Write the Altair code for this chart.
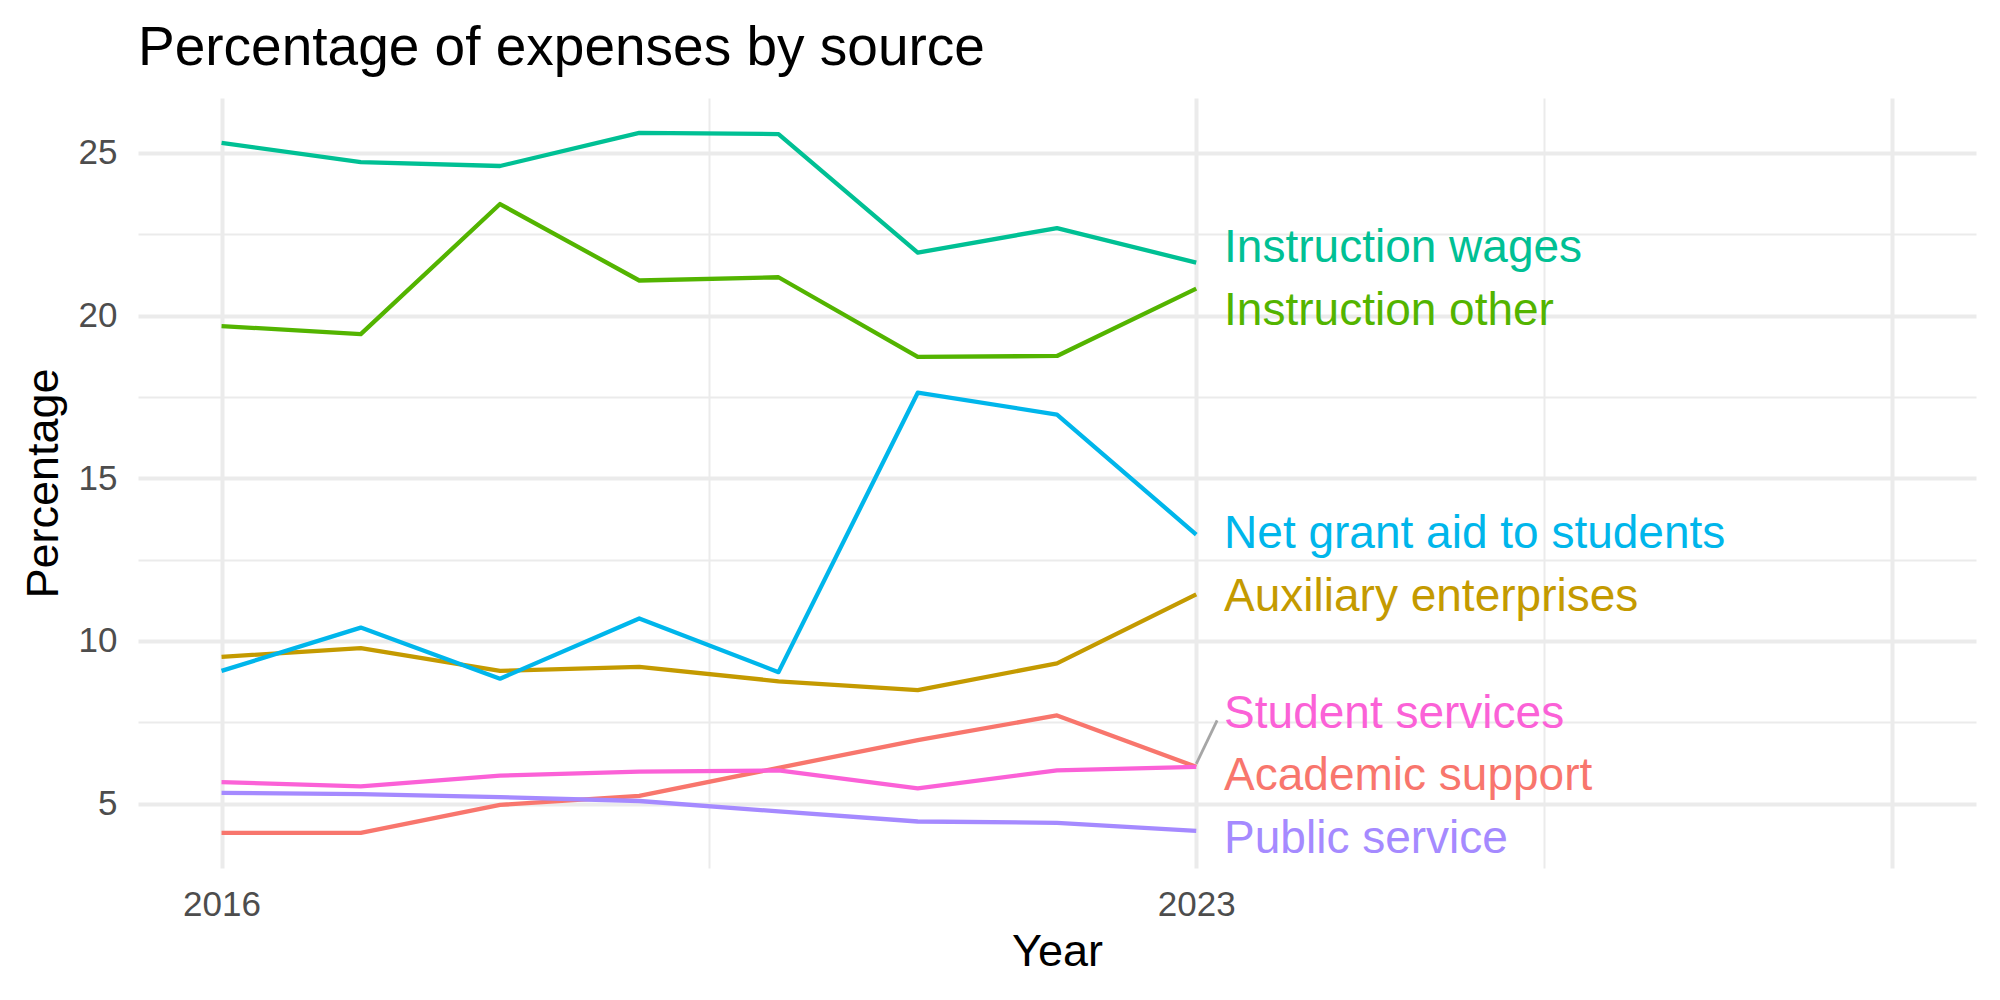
import altair as alt
import pandas as pd

# Expense shares by source, percent of total, 2016-2023
years = [2016, 2017, 2018, 2019, 2020, 2021, 2022, 2023]

series_names = [
    "Academic support",
    "Auxiliary enterprises",
    "Instruction other",
    "Instruction wages",
    "Net grant aid to students",
    "Public service",
    "Student services",
]
series_colors = ["#F8766D", "#C49A00", "#53B400", "#00C094", "#00B6EB", "#A58AFF", "#FB61D7"]

academic_support = [4.10, 4.10, 4.96, 5.24, 6.10, 6.95, 7.71, 6.13]
auxiliary_enterprises = [9.51, 9.78, 9.08, 9.20, 8.76, 8.49, 9.31, 11.43]
instruction_other = [19.68, 19.43, 23.43, 21.08, 21.18, 18.73, 18.76, 20.83]
instruction_wages = [25.31, 24.72, 24.60, 25.62, 25.58, 21.94, 22.69, 21.63]
net_grant_aid = [9.08, 10.41, 8.84, 10.69, 9.04, 17.63, 16.96, 13.27]
public_service = [5.33, 5.29, 5.20, 5.08, 4.76, 4.45, 4.41, 4.16]
student_services = [5.66, 5.53, 5.86, 5.98, 6.02, 5.47, 6.02, 6.13]

# Repelled end-label placement (data units)
label_year = [2023.2] * 7
label_value = [5.43, 10.91, 19.70, 21.65, 12.85, 3.49, 7.32]

# Leader segment from the Student services line end to its label
segment_from = [2023.0, 6.22]
segment_to = [2023.15, 7.56]

values_by_series = [
    academic_support,
    auxiliary_enterprises,
    instruction_other,
    instruction_wages,
    net_grant_aid,
    public_service,
    student_services,
]

rows = []
for name, vals in zip(series_names, values_by_series):
    for yr, v in zip(years, vals):
        rows.append({"series": name, "year": yr, "value": v})
df = pd.DataFrame(rows)

labels_df = pd.DataFrame({"series": series_names, "year": label_year, "value": label_value})
segment_df = pd.DataFrame(
    [{"x": segment_from[0], "y": segment_from[1], "x2": segment_to[0], "y2": segment_to[1]}]
)

FONT = "Liberation Sans"
GRID = "#EBEBEB"

x_scale = alt.Scale(domain=[2015.4, 2028.6], nice=False, zero=False)
y_scale = alt.Scale(domain=[3.02, 26.69], nice=False, zero=False)
color_scale = alt.Scale(domain=series_names, range=series_colors)

x_axis = alt.Axis(
    values=[2016, 2019.5, 2023, 2025.5, 2028],
    labelExpr="datum.value == 2016 || datum.value == 2023 ? datum.value : ''",
    grid=True,
    gridColor=GRID,
    gridWidth={"condition": {"test": "datum.value == 2019.5 || datum.value == 2025.5", "value": 2}, "value": 4},
    ticks=False,
    tickSize=0,
    domain=False,
    labelFont=FONT,
    labelFontSize=35,
    labelColor="#4D4D4D",
    labelPadding=19,
    labelOverlap=False,
    title="Year",
    titleFont=FONT,
    titleFontSize=45,
    titleFontWeight="normal",
    titleColor="#000000",
    titleBaseline="alphabetic",
    titleX=919,
    titleY=97,
)

y_axis = alt.Axis(
    values=[5, 7.5, 10, 12.5, 15, 17.5, 20, 22.5, 25],
    labelExpr="datum.value % 5 == 0 ? datum.value : ''",
    grid=True,
    gridColor=GRID,
    gridWidth={"condition": {"test": "datum.value % 5 != 0", "value": 2}, "value": 4},
    ticks=False,
    tickSize=0,
    domain=False,
    labelFont=FONT,
    labelFontSize=35,
    labelColor="#4D4D4D",
    labelPadding=21,
    labelOverlap=False,
    title="Percentage",
    titleFont=FONT,
    titleFontSize=45,
    titleFontWeight="normal",
    titleColor="#000000",
    titleAngle=-90,
    titleAlign="center",
    titleBaseline="alphabetic",
    titleX=-81,
    titleY=385,
)

lines = (
    alt.Chart(df)
    .mark_line(strokeWidth=4.3, strokeCap="butt", strokeJoin="round")
    .encode(
        x=alt.X("year:Q", scale=x_scale, axis=x_axis),
        y=alt.Y("value:Q", scale=y_scale, axis=y_axis),
        color=alt.Color("series:N", scale=color_scale, legend=None),
    )
)

segment = (
    alt.Chart(segment_df)
    .mark_rule(color="#A6A6A6", strokeWidth=2.8)
    .encode(
        x=alt.X("x:Q", scale=x_scale),
        y=alt.Y("y:Q", scale=y_scale),
        x2="x2:Q",
        y2="y2:Q",
    )
)

labels = (
    alt.Chart(labels_df)
    .mark_text(align="left", baseline="alphabetic", font=FONT, fontSize=46)
    .encode(
        x=alt.X("year:Q", scale=x_scale),
        y=alt.Y("value:Q", scale=y_scale),
        text="series:N",
        color=alt.Color("series:N", scale=color_scale, legend=None),
    )
)

chart = (
    alt.layer(lines, segment, labels)
    .properties(
        width=1838,
        height=770,
        title=alt.Title(
            "Percentage of expenses by source",
            anchor="start",
            frame="group",
            font=FONT,
            fontSize=55,
            fontWeight="normal",
            color="#000000",
            baseline="alphabetic",
            offset=35,
            dy=57,
        ),
        autosize=alt.AutoSizeParams(type="none"),
        padding={"left": 138, "top": 98, "right": 24, "bottom": 132},
        background="#FFFFFF",
    )
    .configure_view(strokeWidth=0)
)

chart.save("out.html", embed_options={"renderer": "svg", "actions": False})
